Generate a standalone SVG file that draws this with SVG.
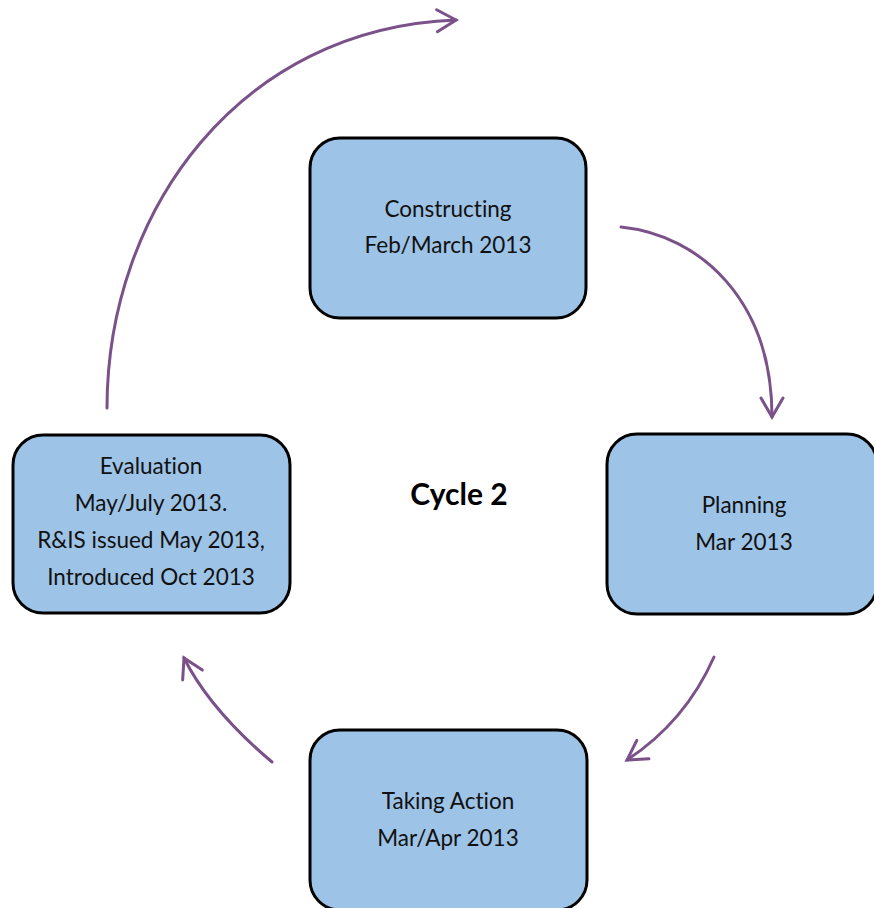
<svg xmlns="http://www.w3.org/2000/svg" width="874" height="908" viewBox="0 0 874 908">
  <style>
    .box { fill: #9dc3e6; stroke: #000000; stroke-width: 3; }
    .label { font-family: Lato, "Noto Sans", "Liberation Sans", sans-serif; font-size: 22.5px; fill: #111111; text-anchor: middle; font-variant-ligatures: none; }
    .title { font-family: Lato, "Noto Sans", "Liberation Sans", sans-serif; font-size: 30px; font-weight: bold; fill: #000000; text-anchor: middle; }
    .flow { fill: none; stroke: #7b5189; stroke-width: 3; stroke-linecap: round; }
  </style>
  <defs>
    <marker id="chevron" markerUnits="userSpaceOnUse" viewBox="-24 -14 28 28" refX="0" refY="0" markerWidth="28" markerHeight="28" orient="auto">
      <path d="M-19,-11 L0,0 L-19,11" fill="none" stroke="#7b5189" stroke-width="3" stroke-linecap="round" stroke-linejoin="miter"/>
    </marker>
  </defs>

  <rect width="874" height="908" fill="#ffffff"/>

  <g id="connectors">
    <path class="flow" marker-end="url(#chevron)" d="M107,408 C107,210 240,28 456,20"/>
    <path class="flow" marker-end="url(#chevron)" d="M621,227 C700,235 772,300 772,417"/>
    <path class="flow" marker-end="url(#chevron)" d="M714,657 C695,700 665,735 627,760"/>
    <path class="flow" marker-end="url(#chevron)" d="M272,762 C240,735 205,700 184,658"/>
  </g>

  <g id="constructing">
    <rect class="box" x="310" y="138" width="276" height="180" rx="30" ry="30"/>
    <text class="label" x="448" y="217">Constructing</text>
    <text class="label" x="448" y="253">Feb/March 2013</text>
  </g>

  <g id="planning">
    <rect class="box" x="607" y="434" width="270" height="180" rx="30" ry="30"/>
    <text class="label" x="744" y="513">Planning</text>
    <text class="label" x="744" y="550">Mar 2013</text>
  </g>

  <g id="taking-action">
    <rect class="box" x="310" y="730" width="277" height="180" rx="30" ry="30"/>
    <text class="label" x="448" y="809">Taking Action</text>
    <text class="label" x="448" y="846">Mar/Apr 2013</text>
  </g>

  <g id="evaluation">
    <rect class="box" x="13" y="435" width="277" height="178" rx="30" ry="30"/>
    <text class="label" x="151" y="474">Evaluation</text>
    <text class="label" x="151" y="511">May/July 2013.</text>
    <text class="label" x="151" y="548">R&amp;IS issued May 2013,</text>
    <text class="label" x="151" y="585">Introduced Oct 2013</text>
  </g>

  <g id="cycle-title">
    <text class="title" x="459" y="505">Cycle 2</text>
  </g>
</svg>
